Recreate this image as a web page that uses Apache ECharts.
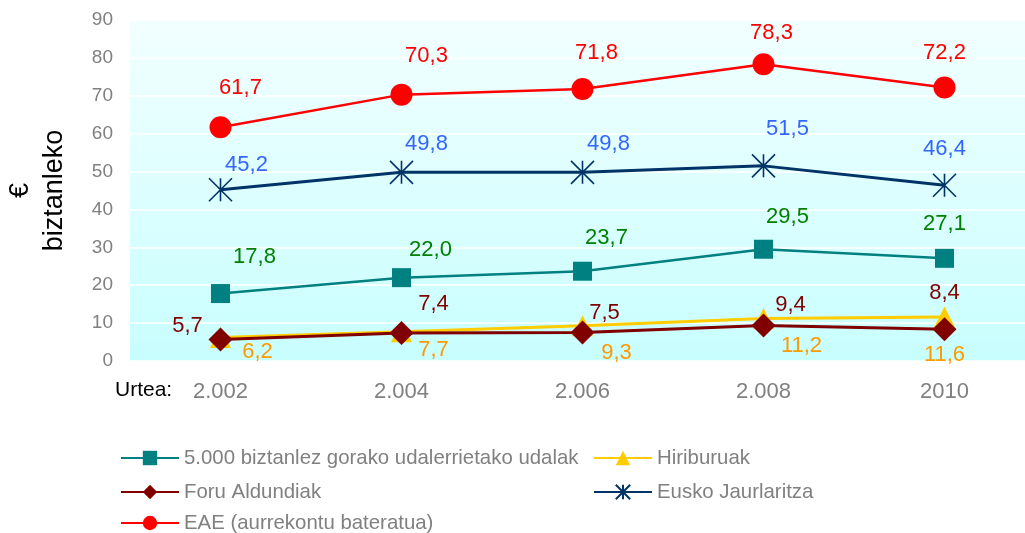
<!DOCTYPE html>
<html lang="eu" style="height: 100%">
<head>
  <meta charset="utf-8">
</head>
<body style="height: 100%; margin: 0">
  <div id="container" style="height: 100%"></div>
  <script type="text/javascript" src="https://fastly.jsdelivr.net/npm/echarts@6/dist/echarts.min.js"></script>
  <script type="text/javascript">
    var years = ['2.002', '2.004', '2.006', '2.008', '2010'];
    var udalak = [17.8, 22.0, 23.7, 29.5, 27.1];
    var hiriburuak = [6.2, 7.7, 9.3, 11.2, 11.6];
    var foru = [5.7, 7.4, 7.5, 9.4, 8.4];
    var eusko = [45.2, 49.8, 49.8, 51.5, 46.4];
    var eae = [61.7, 70.3, 71.8, 78.3, 72.2];
    var names = [
      '5.000 biztanlez gorako udalerrietako udalak',
      'Hiriburuak',
      'Foru Aldundiak',
      'Eusko Jaurlaritza',
      'EAE (aurrekontu bateratua)'
    ];

    var dom = document.getElementById('container');
    var myChart = echarts.init(dom, null, { renderer: 'canvas' });
    var FONT = '"Liberation Sans", Arial, sans-serif';

    function fmt(p) {
      return p.value.toFixed(1).replace('.', ',');
    }

    // labels sit where the original put them, relative to each point
    function withLabels(values, offsets) {
      return values.map(function (v, i) {
        return { value: v, label: { offset: offsets[i] } };
      });
    }

    function makeSeries(name, values, opts) {
      return {
        name: name,
        type: 'line',
        data: withLabels(values, opts.offsets),
        symbol: opts.symbol,
        symbolSize: opts.symbolSize,
        lineStyle: { color: opts.color, width: opts.width },
        itemStyle: opts.itemStyle || { color: opts.color },
        z: opts.z,
        label: {
          show: true,
          position: 'inside',
          formatter: fmt,
          color: opts.labelColor,
          fontSize: 22,
          fontFamily: FONT
        }
      };
    }

    var starPath = 'path://M0,-10L0,10M-10,-10L10,10M-10,10L10,-10';

    var series = [
      makeSeries(names[0], udalak, {
        color: '#008080', width: 2.5, symbol: 'rect', symbolSize: 19, z: 3,
        labelColor: '#008000',
        offsets: [[34, -37], [29, -28], [24, -33], [24, -32], [0, -34]]
      }),
      makeSeries(names[1], hiriburuak, {
        color: '#FFCC00', width: 3, symbol: 'triangle', symbolSize: 21, z: 2,
        labelColor: '#FF9900',
        offsets: [[37, 14], [32, 18], [34, 27], [38, 27], [0, 38]]
      }),
      makeSeries(names[2], foru, {
        color: '#800000', width: 3, symbol: 'diamond', symbolSize: 24, z: 4,
        labelColor: '#800000',
        offsets: [[-33, -13], [32, -29], [22, -20], [27, -20], [0, -36]]
      }),
      makeSeries(names[3], eusko, {
        color: '#003366', width: 3, symbol: starPath, symbolSize: 23, z: 3,
        itemStyle: { color: 'none', borderColor: '#003366', borderWidth: 1.6 },
        labelColor: '#3366FF',
        offsets: [[26, -25], [25, -28], [26, -28], [24, -37], [0, -36]]
      }),
      makeSeries(names[4], eae, {
        color: '#FF0000', width: 2.5, symbol: 'circle', symbolSize: 22, z: 5,
        labelColor: '#FF0000',
        offsets: [[20, -39], [25, -39], [14, -36], [8, -31], [0, -35]]
      })
    ];

    var legendPos = [[120, 448], [593, 448], [120, 482], [593, 482], [120, 513]];
    var legends = names.map(function (n, i) {
      return {
        data: [n],
        left: legendPos[i][0],
        top: legendPos[i][1],
        itemWidth: 58,
        itemHeight: 18,
        itemGap: 4,
        padding: 0,
        textStyle: { color: '#808080', fontSize: 20.4, fontFamily: FONT },
        selectedMode: false
      };
    });

    var option = {
      animation: false,
      backgroundColor: '#ffffff',
      textStyle: { fontFamily: FONT },
      grid: {
        left: 130,
        top: 20,
        width: 905,
        height: 341,
        outerBoundsMode: 'none',
        containLabel: false,
        show: true,
        borderWidth: 0,
        backgroundColor: new echarts.graphic.LinearGradient(0, 0, 0, 1, [
          { offset: 0, color: '#F2FFFF' },
          { offset: 1, color: '#C8FEFE' }
        ])
      },
      legend: legends,
      graphic: [{
        type: 'text',
        left: 115,
        top: 380,
        style: { text: 'Urtea:', fill: '#000', fontSize: 21, fontFamily: FONT }
      }],
      xAxis: {
        type: 'category',
        data: years,
        boundaryGap: true,
        axisLine: { show: false },
        axisTick: { show: false },
        splitLine: { show: false },
        axisLabel: { color: '#808080', fontSize: 22, margin: 20, fontFamily: FONT }
      },
      yAxis: {
        type: 'value',
        min: 0,
        max: 90,
        interval: 10,
        name: '€\nbiztanleko',
        nameLocation: 'middle',
        nameRotate: 90,
        nameGap: 58,
        nameTextStyle: { color: '#000', fontSize: 27, lineHeight: 34, fontFamily: FONT },
        axisLine: { show: false },
        axisTick: { show: false },
        splitLine: { lineStyle: { color: '#ffffff', width: 1.5 } },
        axisLabel: { color: '#808080', fontSize: 19, margin: 17, fontFamily: FONT }
      },
      series: series
    };

    myChart.setOption(option);
    window.addEventListener('resize', myChart.resize);
  </script>
</body>
</html>
